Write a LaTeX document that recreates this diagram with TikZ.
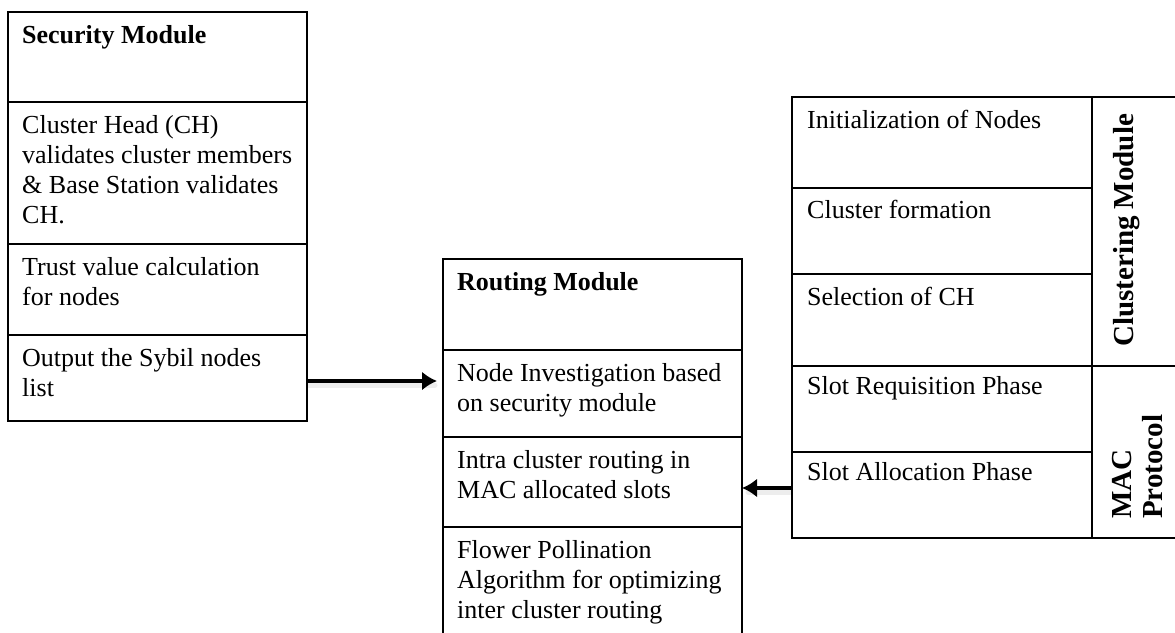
\documentclass[tikz,border=0pt]{standalone}
\usepackage{fontspec}
\setmainfont{Liberation Serif}
\usetikzlibrary{arrows.meta}
\begin{document}
\begin{tikzpicture}[x=1pt,y=-1pt,
  cell/.style={draw, line width=1.3pt, inner sep=0pt, outer sep=0pt, anchor=north west},
  label/.style={anchor=north west, inner sep=0pt, align=left, font=\fontsize{26}{30}\selectfont},
  sidelabel/.style={rotate=90, anchor=north west, inner sep=0pt, align=left, font=\fontsize{29}{31}\selectfont\bfseries},
  flow/.style={line width=3.6pt, -{Latex[length=15pt,width=19pt]}},
  flowshade/.style={line width=5pt, black, opacity=0.07, line cap=round}]
\useasboundingbox (0,0) rectangle (1175,632);
\clip (0,0) rectangle (1175,632);

% Security module
\node[cell, minimum width=299pt, minimum height=90pt]  (s0) at (8,12)  {};
\node[cell, minimum width=299pt, minimum height=142pt] (s1) at (8,102) {};
\node[cell, minimum width=299pt, minimum height=91pt]  (s2) at (8,244) {};
\node[cell, minimum width=299pt, minimum height=86pt]  (s3) at (8,335) {};
\node[label] (ts0) at ([shift={(14pt,-13pt)}]s0.north west) {\textbf{Security Module}};
\node[label] (ts1) at ([shift={(14pt,-13pt)}]s1.north west) {Cluster Head (CH)\\validates cluster members\\\& Base Station validates\\CH.};
\node[label] (ts2) at ([shift={(14pt,-13pt)}]s2.north west) {Trust value calculation\\for nodes};
\node[label] (ts3) at ([shift={(14pt,-13pt)}]s3.north west) {Output the Sybil nodes\\list};

% Routing module
\node[cell, minimum width=299pt, minimum height=91pt]  (r0) at (443,259) {};
\node[cell, minimum width=299pt, minimum height=87pt]  (r1) at (443,350) {};
\node[cell, minimum width=299pt, minimum height=90pt]  (r2) at (443,437) {};
\node[cell, minimum width=299pt, minimum height=125pt] (r3) at (443,527) {};
\node[label] (tr0) at ([shift={(14pt,-13pt)}]r0.north west) {\textbf{Routing Module}};
\node[label] (tr1) at ([shift={(14pt,-13pt)}]r1.north west) {Node Investigation based\\on security module};
\node[label] (tr2) at ([shift={(14pt,-13pt)}]r2.north west) {Intra cluster routing in\\MAC allocated slots};
\node[label] (tr3) at ([shift={(14pt,-13pt)}]r3.north west) {Flower Pollination\\Algorithm for optimizing\\inter cluster routing};

% Clustering module and MAC protocol
\node[cell, minimum width=300pt, minimum height=91pt] (c0) at (792,97)  {};
\node[cell, minimum width=300pt, minimum height=86pt] (c1) at (792,188) {};
\node[cell, minimum width=300pt, minimum height=92pt] (c2) at (792,274) {};
\node[cell, minimum width=300pt, minimum height=86pt] (m0) at (792,366) {};
\node[cell, minimum width=300pt, minimum height=86pt] (m1) at (792,452) {};
\node[cell, minimum width=100pt, minimum height=269pt] (cs) at (1092,97)  {};
\node[cell, minimum width=100pt, minimum height=172pt] (ms) at (1092,366) {};
\node[label] (tc0) at ([shift={(15pt,-13pt)}]c0.north west) {Initialization of Nodes};
\node[label] (tc1) at ([shift={(15pt,-12pt)}]c1.north west) {Cluster formation};
\node[label] (tc2) at ([shift={(15pt,-13pt)}]c2.north west) {Selection of CH};
\node[label] (tm0) at ([shift={(15pt,-10pt)}]m0.north west) {Slot Requisition Phase};
\node[label] (tm1) at ([shift={(15pt,-10pt)}]m1.north west) {Slot Allocation Phase};
\node[sidelabel] (tcs) at (1113,347) {Clustering Module};
\node[sidelabel] (tms) at (1112.5,519) {MAC\\Protocol};

% Connectors, each with a soft shadow underneath
\draw[flowshade] ([shift={(2pt,-7pt)}]s3.east) -- ([shift={(-8pt,-7pt)}]s3.east -| r1.west);
\draw[flowshade] ([shift={(-2pt,3pt)}]m1.west) -- ([shift={(6pt,3pt)}]m1.west -| r2.east);
\draw[flow, shorten >=6pt] ([yshift=-3pt]s3.east) -- ([yshift=-3pt]s3.east -| r1.west);
\draw[flow] ([yshift=7pt]m1.west) -- ([yshift=7pt]m1.west -| r2.east);
\end{tikzpicture}
\end{document}
